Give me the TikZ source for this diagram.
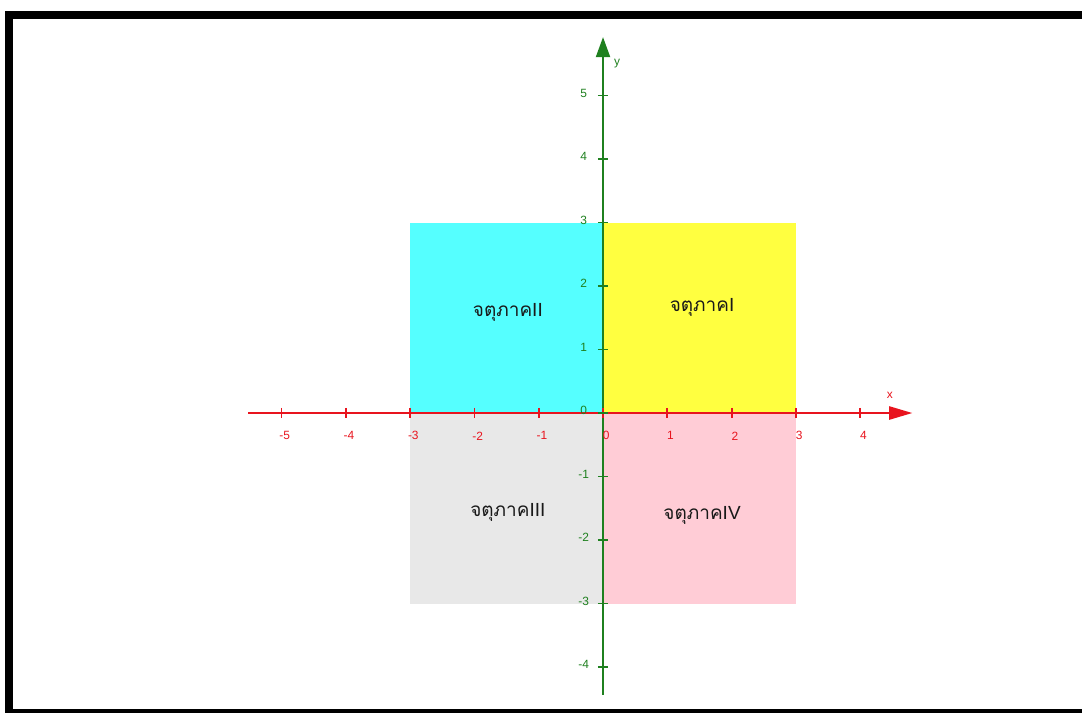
\documentclass[tikz,border=0pt]{standalone}
\usepackage{fontspec}
\setmainfont{Liberation Sans}
\newfontfamily\thaifont[Script=Thai]{Loma}
\usetikzlibrary{arrows.meta}
\definecolor{axisred}{HTML}{E8141E}
\definecolor{axisgreen}{HTML}{1F801F}
\definecolor{quadcyan}{HTML}{55FFFF}
\definecolor{quadyellow}{HTML}{FFFF40}
\definecolor{quadgray}{HTML}{E8E8E8}
\definecolor{quadpink}{HTML}{FFCCD6}

\begin{document}
\begin{tikzpicture}[x=1.6075cm,y=1.5875cm,
    quadlabel/.style={font=\fontsize{13.5}{15}\selectfont,text=black!90},
    ticklabel/.style={font=\fontsize{8.5}{10}\selectfont,inner sep=1pt}]
      \useasboundingbox (-9.378,-4.724) rectangle (7.449,6.504);
      \clip (-9.378,-4.724) rectangle (7.449,6.504);
      \draw[line width=0.2cm] (-9.238,-4.73) rectangle (7.7,6.268);
      % quadrants
      \fill[quadyellow] (0,0) rectangle (3,3);
      \fill[quadcyan] (-3,0) rectangle (0,3);
      \fill[quadgray] (-3,-3) rectangle (0,0);
      \fill[quadpink] (0,-3) rectangle (3,0);
      \node[quadlabel] (qI) at (1.54,1.67) {{\thaifont จตุภาค}I};
      \node[quadlabel] (qII) at (-1.48,1.59) {{\thaifont จตุภาค}II};
      \node[quadlabel] (qIII) at (-1.48,-1.56) {{\thaifont จตุภาค}III};
      \node[quadlabel] (qIV) at (1.54,-1.61) {{\thaifont จตุภาค}IV};
      % axes
      \coordinate (ystart) at (0,-4.44);
      \coordinate (yend) at (0,5.92);
      \draw[axisgreen,line width=1.4pt,-{Triangle[length=0.5cm,width=0.35cm]}] (ystart) -- (yend);
      \coordinate (xstart) at (-5.52,0);
      \coordinate (xend) at (4.81,0);
      \draw[axisred,line width=1.4pt,-{Triangle[length=0.58cm,width=0.33cm]}] (xstart) -- (xend);
      \foreach \i in {-5,...,4} {
        \draw[axisred,line width=1.3pt] (\i,0.08) -- (\i,-0.08);
        \node[ticklabel,text=axisred] (xl\i) at (\i+0.05,-0.36) {\i};
      }
      \foreach \j in {-4,...,5} {
        \draw[axisgreen,line width=1.3pt] (-0.08,\j) -- (0.08,\j);
        \node[ticklabel,text=axisgreen] (yl\j) at (-0.3,\j+0.04) {\j};
      }
      \node[ticklabel,text=axisred] (xname) at (4.46,0.28) {x};
      \node[ticklabel,text=axisgreen] (yname) at (0.22,5.51) {y};
    \end{tikzpicture}
\end{document}
